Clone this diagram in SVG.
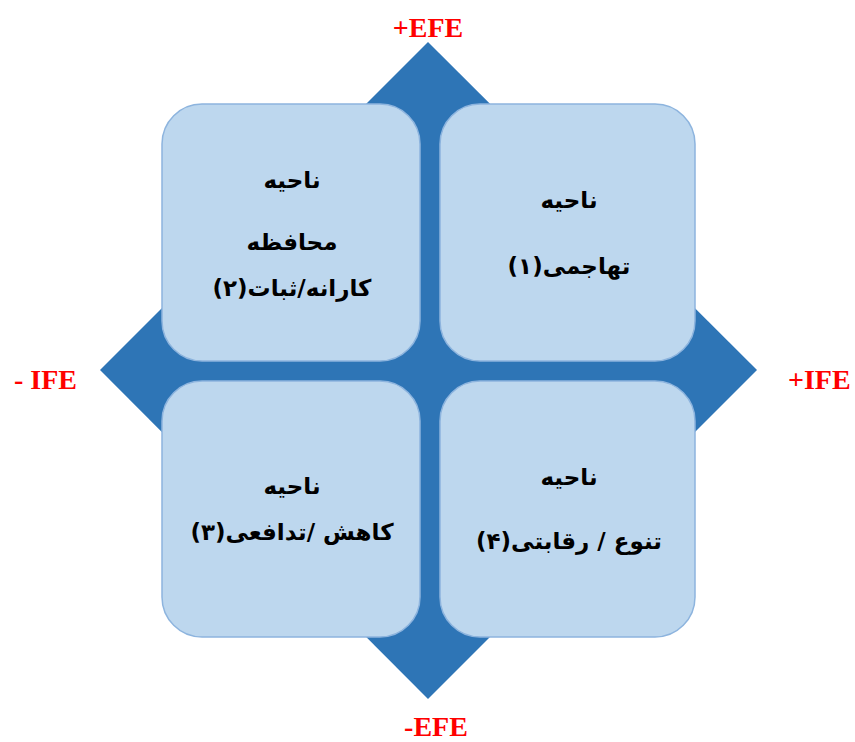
<svg xmlns="http://www.w3.org/2000/svg" width="855" height="742" viewBox="0 0 855 742">
<style>
.box{fill:#bdd7ee;stroke:#8db4de;stroke-width:1.5}
.fa{font-family:"DejaVu Sans",sans-serif;font-weight:bold;font-size:23px;fill:#000;text-anchor:middle;direction:rtl}
.ax{font-family:"Liberation Serif","Times New Roman",serif;font-weight:bold;font-size:28px;fill:#ff0000}
</style>
<rect width="855" height="742" fill="#fff"/>
<g id="diamond">
<polygon points="428,42 757,370 428,699 100,370" fill="#2e75b6"/>
</g>
<g id="q2">
<rect class="box" x="162" y="104" width="258" height="257" rx="40"/>
<text class="fa" x="292" y="188">ناحیه</text>
<text class="fa" x="292" y="250">محافظه</text>
<text class="fa" x="292" y="296">کارانه/ثبات(۲)</text>
</g>
<g id="q1">
<rect class="box" x="440" y="104" width="255" height="257" rx="40"/>
<text class="fa" x="569" y="208">ناحیه</text>
<text class="fa" x="569" y="274">تهاجمی(۱)</text>
</g>
<g id="q3">
<rect class="box" x="162" y="381" width="258" height="256" rx="40"/>
<text class="fa" x="292" y="494">ناحیه</text>
<text class="fa" x="292" y="540">کاهش /تدافعی(۳)</text>
</g>
<g id="q4">
<rect class="box" x="440" y="381" width="255" height="256" rx="40"/>
<text class="fa" x="569" y="485">ناحیه</text>
<text class="fa" x="569" y="549">تنوع / رقابتی(۴)</text>
</g>
<g id="labels">
<text class="ax" x="428" y="37" text-anchor="middle">+EFE</text>
<text class="ax" x="436" y="736" text-anchor="middle">-EFE</text>
<text class="ax" x="14" y="389">- IFE</text>
<text class="ax" x="788" y="389">+IFE</text>
</g>
</svg>
